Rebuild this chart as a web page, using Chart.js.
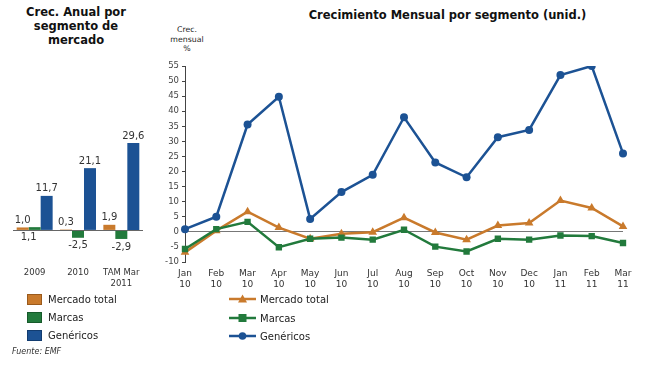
<!DOCTYPE html>
<html>
<head>
<meta charset="utf-8">
<script src="https://cdn.jsdelivr.net/npm/chart.js@4/dist/chart.umd.min.js"></script>
<style>
  body { margin: 0; background: #fff; font-family: "DejaVu Sans", Verdana, sans-serif; color: #222; }
  #wrap { position: relative; width: 650px; height: 365px; overflow: hidden; }
  .abs { position: absolute; }
  .title { font-weight: bold; font-size: 11.5px; text-align: center; color: #111; line-height: 14px; }
  .leg { font-size: 10px; color: #222; display: flex; align-items: center; height: 14px; }
  .sw { width: 15px; height: 11px; margin-right: 6px; box-sizing: border-box; }
</style>
</head>
<body>
<div id="wrap">
  <div class="abs title" style="left:0;top:5px;width:152px;">Crec. Anual por<br>segmento de<br>mercado</div>
  <div class="abs title" style="left:290px;top:8px;width:315px;">Crecimiento Mensual por segmento (unid.)</div>
  <div class="abs" style="left:167px;top:25px;width:40px;text-align:center;font-size:7.8px;line-height:9.5px;color:#222;">Crec.<br>mensual<br>%</div>

  <canvas id="anual" class="abs" style="left:0;top:130px;" width="160" height="165"></canvas>
  <canvas id="mensual" class="abs" style="left:150px;top:55px;" width="490" height="240"></canvas>

  <div class="abs leg" style="left:27px;top:292px;"><div class="sw" style="background:#C97A2C;border:1px solid #9a5a1c"></div>Mercado total</div>
  <div class="abs leg" style="left:27px;top:310px;"><div class="sw" style="background:#227A3C;border:1px solid #165a2a"></div>Marcas</div>
  <div class="abs leg" style="left:27px;top:328px;"><div class="sw" style="background:#1C5294;border:1px solid #123c70"></div>Genéricos</div>
  <div class="abs" style="left:12px;top:347px;font-size:8px;font-style:italic;color:#333;">Fuente: EMF</div>

  <div class="abs leg" style="left:229px;top:292px;"><svg width="27" height="12" style="margin-right:4px"><line x1="0" y1="6" x2="27" y2="6" stroke="#C97A2C" stroke-width="2.5"/><polygon points="13.5,1.5 18,9.5 9,9.5" fill="#C97A2C"/></svg>Mercado total</div>
  <div class="abs leg" style="left:229px;top:311px;"><svg width="27" height="12" style="margin-right:4px"><line x1="0" y1="6" x2="27" y2="6" stroke="#227A3C" stroke-width="2.5"/><rect x="9.5" y="2" width="8" height="8" fill="#227A3C"/></svg>Marcas</div>
  <div class="abs leg" style="left:229px;top:329px;"><svg width="27" height="12" style="margin-right:4px"><line x1="0" y1="6" x2="27" y2="6" stroke="#1C5294" stroke-width="2.5"/><circle cx="13.5" cy="6" r="3.8" fill="#1C5294"/></svg>Genéricos</div>
</div>

<script>
const anualCats = ['2009', '2010', ['TAM Mar', '2011']];
const anualMercado = [1.0, 0.3, 1.9];
const anualMarcas = [1.1, -2.5, -2.9];
const anualGenericos = [11.7, 21.1, 29.6];

const meses = [['Jan','10'],['Feb','10'],['Mar','10'],['Apr','10'],['May','10'],['Jun','10'],['Jul','10'],
  ['Aug','10'],['Sep','10'],['Oct','10'],['Nov','10'],['Dec','10'],['Jan','11'],['Feb','11'],['Mar','11']];
const mercadoMensual = [-6.8, 0.4, 6.7, 1.4, -2.3, -0.6, -0.1, 4.7, -0.2, -2.6, 2.1, 2.9, 10.4, 7.9, 1.8];
const marcasMensual = [-5.7, 0.9, 3.3, -5.1, -2.3, -1.9, -2.6, 0.7, -4.9, -6.5, -2.3, -2.6, -1.2, -1.4, -3.7];
const genericosMensual = [0.9, 5.0, 35.6, 44.8, 4.3, 13.2, 18.9, 38.0, 23.0, 18.1, 31.4, 33.8, 52.0, 55.0, 26.0];

const NARANJA = '#C97A2C', VERDE = '#227A3C', AZUL = '#1C5294';
const FONT = '"DejaVu Sans", Verdana, sans-serif';

Chart.defaults.font.family = FONT;
Chart.defaults.color = '#333';
Chart.defaults.animation = false;

function fmt(v) { return v.toFixed(1).replace('.', ','); }

// value labels on the annual bars
const barLabels = {
  id: 'barLabels',
  afterDatasetsDraw(chart) {
    const ctx = chart.ctx;
    ctx.save();
    ctx.font = '10px ' + FONT;
    ctx.fillStyle = '#333';
    ctx.textAlign = 'center';
    chart.data.datasets.forEach((ds, i) => {
      chart.getDatasetMeta(i).data.forEach((bar, j) => {
        const v = ds.data[j];
        const top = Math.min(bar.y, bar.base), bottom = Math.max(bar.y, bar.base);
        if (ds.below) {
          ctx.textBaseline = 'top';
          ctx.fillText(fmt(v), bar.x - (v > 0 ? 6 : 0), bottom + 3);
        } else {
          ctx.textBaseline = 'bottom';
          ctx.fillText(fmt(v), bar.x, top - 2);
        }
      });
    });
    ctx.restore();
  }
};

new Chart(document.getElementById('anual'), {
  type: 'bar',
  data: {
    labels: anualCats,
    datasets: [
      { label: 'Mercado total', data: anualMercado, backgroundColor: NARANJA },
      { label: 'Marcas', data: anualMarcas, backgroundColor: VERDE, below: true },
      { label: 'Genéricos', data: anualGenericos, backgroundColor: AZUL }
    ]
  },
  options: {
    responsive: false,
    layout: { padding: { top: 6, right: 17, left: 0, bottom: 0 } },
    plugins: { legend: { display: false }, tooltip: { enabled: false } },
    datasets: { bar: { categoryPercentage: 0.83, barPercentage: 1.0 } },
    scales: {
      x: {
        grid: { display: false, drawTicks: false },
        border: { display: false },
        ticks: { font: { size: 8.5 }, color: '#333', padding: 14, maxRotation: 0 },
        afterFit: s => { s.height = 41; }
      },
      y: {
        min: -8, max: 32,
        ticks: { display: false },
        border: { display: false },
        grid: {
          drawTicks: false,
          color: c => c.tick.value === 0 ? '#666' : 'transparent',
          lineWidth: 1
        },
        afterFit: s => { s.width = 13; }
      }
    }
  },
  plugins: [barLabels]
});

new Chart(document.getElementById('mensual'), {
  type: 'line',
  data: {
    labels: meses,
    datasets: [
      { label: 'Mercado total', data: mercadoMensual, borderColor: NARANJA, backgroundColor: NARANJA,
        pointStyle: 'triangle', pointRadius: 5, order: 3 },
      { label: 'Marcas', data: marcasMensual, borderColor: VERDE, backgroundColor: VERDE,
        pointStyle: 'rect', pointRadius: 4.5, order: 2 },
      { label: 'Genéricos', data: genericosMensual, borderColor: AZUL, backgroundColor: AZUL,
        pointStyle: 'circle', pointRadius: 4, order: 1 }
    ]
  },
  options: {
    responsive: false,
    layout: { padding: { top: 11, right: 17, left: 0, bottom: 0 } },
    elements: { line: { borderWidth: 2.5, tension: 0 }, point: { borderWidth: 0 } },
    plugins: { legend: { display: false }, tooltip: { enabled: false } },
    scales: {
      x: {
        offset: false,
        grid: { display: false, drawTicks: false },
        border: { display: false },
        ticks: { font: { size: 9 }, color: '#333', padding: 6, maxRotation: 0, autoSkip: false },
        afterFit: s => { s.height = 33; }
      },
      y: {
        min: -10, max: 55,
        ticks: { stepSize: 5, font: { size: 8.5 }, color: '#444', padding: 3 },
        border: { display: true, color: '#444', width: 1 },
        grid: {
          tickLength: 3,
          tickColor: '#444',
          color: c => c.tick.value === 0 ? '#777' : 'transparent'
        },
        afterFit: s => { s.width = 35; }
      }
    }
  }
});
</script>
</body>
</html>
